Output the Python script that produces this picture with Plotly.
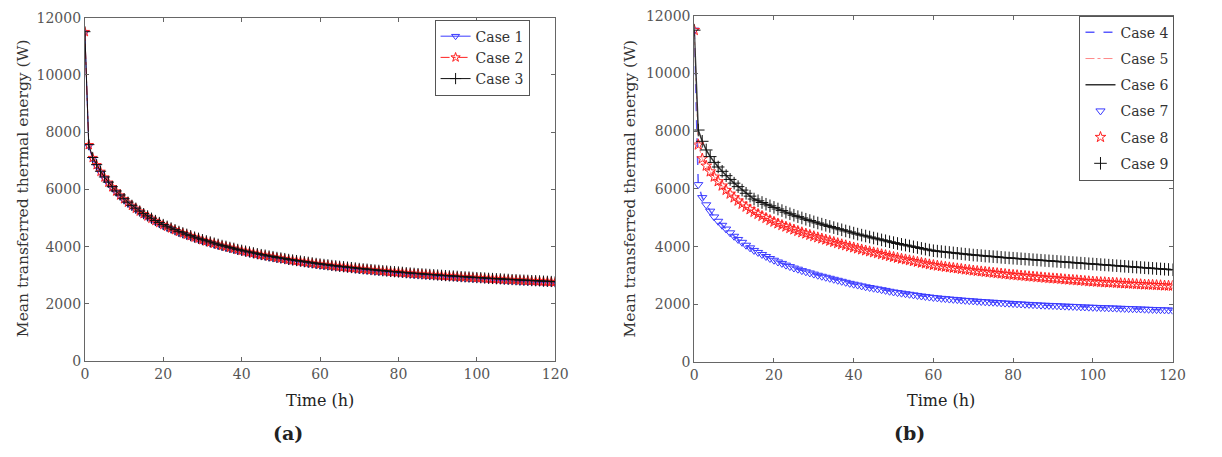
import plotly.graph_objects as go

# ---------------- data ----------------
time_h = list(range(0, 121))

# Panel (a)
case1 = [11480, 7510, 7060, 6810, 6580, 6380, 6200, 6040, 5890, 5750,
         5620, 5500, 5390, 5290, 5190, 5100, 5020, 4940, 4860, 4790,
         4720, 4660, 4600, 4540, 4480, 4430, 4380, 4330, 4280, 4240,
         4190, 4150, 4110, 4070, 4030, 3990, 3960, 3920, 3890, 3850,
         3820, 3790, 3760, 3730, 3700, 3670, 3650, 3620, 3600, 3570,
         3550, 3530, 3500, 3480, 3460, 3440, 3420, 3400, 3380, 3360,
         3340, 3325, 3310, 3290, 3275, 3260, 3245, 3230, 3215, 3200,
         3185, 3170, 3160, 3145, 3130, 3120, 3105, 3095, 3080, 3070,
         3060, 3050, 3035, 3025, 3015, 3005, 2995, 2985, 2975, 2965,
         2955, 2945, 2935, 2925, 2920, 2910, 2900, 2890, 2885, 2875,
         2865, 2860, 2850, 2840, 2835, 2825, 2820, 2810, 2805, 2795,
         2790, 2780, 2775, 2770, 2760, 2755, 2750, 2740, 2735, 2730,
         2720]
case2 = [11500, 7550, 7100, 6850, 6620, 6420, 6240, 6080, 5930, 5790,
         5660, 5540, 5430, 5330, 5230, 5140, 5060, 4980, 4900, 4830,
         4760, 4700, 4640, 4580, 4520, 4470, 4420, 4370, 4320, 4280,
         4230, 4190, 4150, 4110, 4070, 4030, 4000, 3960, 3930, 3890,
         3860, 3830, 3800, 3770, 3740, 3710, 3690, 3660, 3640, 3610,
         3590, 3570, 3540, 3520, 3500, 3480, 3460, 3440, 3420, 3400,
         3380, 3365, 3350, 3330, 3315, 3300, 3285, 3270, 3255, 3240,
         3225, 3210, 3200, 3185, 3170, 3160, 3145, 3135, 3120, 3110,
         3100, 3090, 3075, 3065, 3055, 3045, 3035, 3025, 3015, 3005,
         2995, 2985, 2975, 2965, 2960, 2950, 2940, 2930, 2925, 2915,
         2905, 2900, 2890, 2880, 2875, 2865, 2860, 2850, 2845, 2835,
         2830, 2820, 2815, 2810, 2800, 2795, 2790, 2780, 2775, 2770,
         2760]
case3 = [11510, 7565, 7115, 6865, 6635, 6435, 6255, 6095, 5945, 5805,
         5675, 5555, 5445, 5345, 5245, 5155, 5075, 4995, 4915, 4845,
         4775, 4715, 4655, 4595, 4535, 4485, 4435, 4385, 4335, 4295,
         4245, 4205, 4165, 4125, 4085, 4045, 4015, 3975, 3945, 3905,
         3875, 3845, 3815, 3785, 3755, 3725, 3705, 3675, 3655, 3625,
         3605, 3585, 3555, 3535, 3515, 3495, 3475, 3455, 3435, 3415,
         3395, 3380, 3365, 3345, 3330, 3315, 3300, 3285, 3270, 3255,
         3240, 3225, 3215, 3200, 3185, 3175, 3160, 3150, 3135, 3125,
         3115, 3105, 3090, 3080, 3070, 3060, 3050, 3040, 3030, 3020,
         3010, 3000, 2990, 2980, 2975, 2965, 2955, 2945, 2940, 2930,
         2920, 2915, 2905, 2895, 2890, 2880, 2875, 2865, 2860, 2850,
         2845, 2835, 2830, 2825, 2815, 2810, 2805, 2795, 2790, 2785,
         2775]

# Panel (b)  (cases 4/7, 5/8, 6/9 share the same curves: lines vs markers)
low_b = [11500, 6150, 5700, 5450, 5230, 5030, 4880, 4740, 4610, 4480,
         4360, 4250, 4150, 4050, 3960, 3870, 3800, 3730, 3660, 3590,
         3530, 3470, 3420, 3360, 3310, 3260, 3220, 3170, 3130, 3090,
         3050, 3010, 2975, 2940, 2905, 2870, 2835, 2800, 2765, 2730,
         2700, 2670, 2640, 2610, 2585, 2560, 2535, 2510, 2485, 2455,
         2430, 2410, 2390, 2370, 2350, 2330, 2310, 2290, 2275, 2255,
         2240, 2225, 2210, 2200, 2185, 2175, 2165, 2150, 2140, 2130,
         2120, 2110, 2100, 2090, 2080, 2075, 2065, 2055, 2045, 2040,
         2030, 2020, 2015, 2005, 2000, 1990, 1985, 1975, 1970, 1965,
         1960, 1955, 1945, 1940, 1935, 1930, 1925, 1915, 1910, 1905,
         1900, 1895, 1890, 1885, 1880, 1875, 1870, 1865, 1860, 1855,
         1850, 1845, 1840, 1835, 1830, 1825, 1820, 1815, 1810, 1805,
         1800]
mid_b = [11500, 7530, 7050, 6800, 6600, 6420, 6260, 6110, 5960, 5830,
         5700, 5590, 5480, 5380, 5290, 5200, 5130, 5060, 4990, 4920,
         4860, 4800, 4745, 4690, 4640, 4590, 4540, 4495, 4450, 4405,
         4360, 4320, 4280, 4240, 4200, 4160, 4120, 4080, 4045, 4005,
         3970, 3935, 3900, 3865, 3835, 3800, 3770, 3735, 3705, 3670,
         3640, 3610, 3580, 3555, 3525, 3495, 3470, 3440, 3415, 3385,
         3360, 3340, 3320, 3300, 3280, 3260, 3245, 3225, 3205, 3190,
         3170, 3155, 3140, 3125, 3110, 3095, 3080, 3065, 3050, 3035,
         3020, 3010, 2995, 2985, 2970, 2960, 2945, 2935, 2920, 2910,
         2900, 2890, 2880, 2865, 2855, 2845, 2835, 2825, 2810, 2800,
         2790, 2780, 2770, 2765, 2755, 2750, 2740, 2730, 2725, 2715,
         2710, 2700, 2695, 2685, 2680, 2675, 2665, 2660, 2650, 2645,
         2640]
high_b = [11500, 8040, 7650, 7350, 7120, 6920, 6760, 6610, 6460, 6330,
          6200, 6080, 5960, 5850, 5750, 5650, 5590, 5530, 5470, 5415,
          5360, 5305, 5250, 5195, 5140, 5090, 5040, 4995, 4950, 4905,
          4860, 4820, 4780, 4740, 4700, 4660, 4620, 4585, 4545, 4510,
          4470, 4435, 4400, 4370, 4335, 4300, 4270, 4235, 4205, 4170,
          4140, 4110, 4080, 4055, 4025, 3995, 3970, 3940, 3915, 3885,
          3860, 3845, 3830, 3815, 3800, 3785, 3770, 3755, 3740, 3725,
          3710, 3700, 3690, 3675, 3665, 3655, 3645, 3630, 3620, 3610,
          3600, 3590, 3580, 3570, 3560, 3550, 3540, 3530, 3520, 3510,
          3500, 3490, 3480, 3470, 3460, 3450, 3440, 3430, 3420, 3410,
          3400, 3390, 3380, 3370, 3360, 3350, 3340, 3330, 3320, 3310,
          3300, 3290, 3280, 3270, 3260, 3250, 3240, 3230, 3220, 3210,
          3200]

x_ticks = [0, 20, 40, 60, 80, 100, 120]
y_ticks = [0, 2000, 4000, 6000, 8000, 10000, 12000]

# ---------------- styles ----------------
FONT = "DejaVu Serif"
BLUE = "#3a3aff"
RED = "#ff2020"
BLACK = "#111111"
W, H = 1222, 457

fig = go.Figure()

# Panel (a)
fig.add_trace(go.Scatter(x=time_h, y=case1, name="Case 1", mode="lines+markers",
                         line=dict(color=BLUE, width=1),
                         marker=dict(symbol="triangle-down-open", size=7, color=BLUE, line=dict(width=1)),
                         xaxis="x", yaxis="y", legend="legend"))
fig.add_trace(go.Scatter(x=time_h, y=case2, name="Case 2", mode="lines+markers",
                         line=dict(color=RED, width=1, dash="dashdot"),
                         marker=dict(symbol="star-open", size=7, color=RED, line=dict(width=1)),
                         xaxis="x", yaxis="y", legend="legend"))
fig.add_trace(go.Scatter(x=time_h, y=case3, name="Case 3", mode="lines+markers",
                         line=dict(color=BLACK, width=1),
                         marker=dict(symbol="cross-thin", size=8, color=BLACK, line=dict(width=1, color=BLACK)),
                         xaxis="x", yaxis="y", legend="legend"))

# Panel (b) lines
fig.add_trace(go.Scatter(x=time_h, y=low_b, name="Case 4", mode="lines",
                         line=dict(color="#5a5aff", width=1.5, dash="dash"),
                         xaxis="x2", yaxis="y2", legend="legend2", legendgroup="c4"))
fig.add_trace(go.Scatter(x=time_h, y=mid_b, name="Case 5", mode="lines",
                         line=dict(color="#ff8a8a", width=1, dash="dashdot"),
                         xaxis="x2", yaxis="y2", legend="legend2", legendgroup="c5"))
fig.add_trace(go.Scatter(x=time_h, y=high_b, name="Case 6", mode="lines",
                         line=dict(color="#333333", width=1.5),
                         xaxis="x2", yaxis="y2", legend="legend2", legendgroup="c6"))
# Panel (b) markers
fig.add_trace(go.Scatter(x=time_h, y=low_b, name="Case 7", mode="markers",
                         marker=dict(symbol="triangle-down-open", size=8, color=BLUE, line=dict(width=1)),
                         xaxis="x2", yaxis="y2", legend="legend2", legendgroup="c7"))
fig.add_trace(go.Scatter(x=time_h, y=mid_b, name="Case 8", mode="markers",
                         marker=dict(symbol="star-open", size=8, color=RED, line=dict(width=1)),
                         xaxis="x2", yaxis="y2", legend="legend2", legendgroup="c8"))
fig.add_trace(go.Scatter(x=time_h, y=high_b, name="Case 9", mode="markers",
                         marker=dict(symbol="cross-thin", size=9, color=BLACK, line=dict(width=1, color=BLACK)),
                         xaxis="x2", yaxis="y2", legend="legend2", legendgroup="c9"))

axis_common = dict(showline=True, linecolor="#666666", linewidth=1, mirror="ticks",
                   ticks="inside", ticklen=4, tickcolor="#666666", showgrid=False, zeroline=False,
                   tickformat="d",
                   tickfont=dict(family=FONT, size=14, color="#555555"))

def px_x(p):
    return p / W

def px_y(p):
    return 1 - p / H

fig.update_layout(
    width=W, height=H,
    margin=dict(l=0, r=0, t=0, b=0),
    paper_bgcolor="white", plot_bgcolor="white",
    xaxis=dict(domain=[px_x(82), px_x(559)], range=[0, 120], tickvals=x_ticks, anchor="y", **axis_common),
    yaxis=dict(domain=[px_y(366), px_y(10)], range=[0, 12000], tickvals=y_ticks, anchor="x", **axis_common),
    xaxis2=dict(domain=[px_x(700), px_x(1185)], range=[0, 120], tickvals=x_ticks, anchor="y2", **axis_common),
    yaxis2=dict(domain=[px_y(367), px_y(8)], range=[0, 12000], tickvals=y_ticks, anchor="x2", **axis_common),
    legend=dict(x=px_x(533), y=px_y(12), xanchor="right", yanchor="top",
                bordercolor="#555555", borderwidth=1, bgcolor="white",
                font=dict(family=FONT, size=14, color="#333333"),
                itemwidth=30, tracegroupgap=0),
    legend2=dict(x=px_x(1187), y=px_y(8), xanchor="right", yanchor="top",
                 bordercolor="#555555", borderwidth=1, bgcolor="white",
                 font=dict(family=FONT, size=14, color="#333333"),
                 itemwidth=30, tracegroupgap=5),
    showlegend=True,
)

annots = [
    dict(text="Time (h)", x=px_x(320), y=px_y(407), size=16),
    dict(text="Time (h)", x=px_x(950), y=px_y(407), size=16),
    dict(text="<b>(a)</b>", x=px_x(288), y=px_y(440), size=19),
    dict(text="<b>(b)</b>", x=px_x(918), y=px_y(440), size=19),
]
for a in annots:
    fig.add_annotation(text=a["text"], x=a["x"], y=a["y"], xref="paper", yref="paper",
                       xanchor="center", yanchor="middle", showarrow=False,
                       font=dict(family=FONT, size=a["size"], color="#222222"))

for xp in (20, 635):
    fig.add_annotation(text="Mean transferred thermal energy (W)", x=px_x(xp), y=px_y(187),
                       xref="paper", yref="paper", xanchor="center", yanchor="middle",
                       showarrow=False, textangle=-90,
                       font=dict(family=FONT, size=15.5, color="#333333"))

fig.write_html("out.html")
